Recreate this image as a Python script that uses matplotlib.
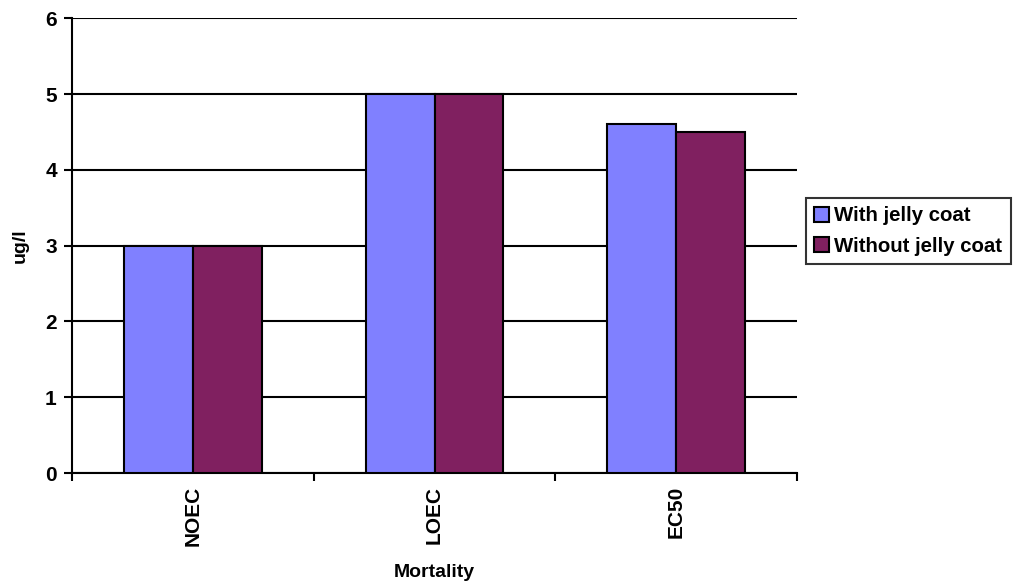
import numpy as np
import matplotlib.pyplot as plt

categories = ['NOEC', 'LOEC', 'EC50']
with_coat = [3, 5, 4.6]
without_coat = [3, 5, 4.5]
series_names = ['With jelly coat', 'Without jelly coat']
y_ticks = [0, 1, 2, 3, 4, 5, 6]

plt.rcParams['font.family'] = ['Liberation Sans', 'DejaVu Sans']
plt.rcParams['font.weight'] = 'bold'

fig = plt.figure(figsize=(10.22, 5.87), dpi=100)
ax = fig.add_axes([0.0705, 0.194, 0.7095, 0.775])

x = np.arange(len(categories))
w = 0.285
ax.bar(x - w / 2, with_coat, w, color='#8080FF', edgecolor='black', linewidth=1.5,
       label=series_names[0], zorder=3)
ax.bar(x + w / 2, without_coat, w, color='#802060', edgecolor='black', linewidth=1.5,
       label=series_names[1], zorder=3)

ax.set_xlim(-0.5, len(categories) - 0.5)
ax.set_ylim(0, 6)
ax.set_yticks(y_ticks)
ax.set_yticklabels([str(t) for t in y_ticks], fontsize=15, fontweight='bold')
ax.yaxis.grid(True, color='black', linewidth=1.5, zorder=0)
ax.tick_params(axis='y', length=6, width=1.5, direction='out', pad=5)

# category ticks sit between groups, labels at group centres
ax.set_xticks(np.arange(len(categories) + 1) - 0.5)
ax.set_xticklabels([])
ax.set_xticks(x, minor=True)
ax.set_xticklabels(categories, minor=True, rotation=90, fontsize=15, fontweight='bold')
ax.tick_params(axis='x', which='major', length=6, width=1.5, direction='out')
ax.tick_params(axis='x', which='minor', length=0, pad=9)

for side in ['top', 'right']:
    ax.spines[side].set_visible(False)
for side in ['left', 'bottom']:
    ax.spines[side].set_linewidth(1.5)
ax.set_axisbelow(True)

ax.set_xlabel('Mortality', fontsize=14, fontweight='bold', labelpad=13)
ax.set_ylabel('ug/l', fontsize=14, fontweight='bold', labelpad=12)

leg = ax.legend(loc='center left', bbox_to_anchor=(1.012, 0.532), frameon=True,
                fancybox=False, prop={'size': 14.7, 'weight': 'bold'},
                handlelength=0.75, handleheight=0.75, handletextpad=0.25,
                borderpad=0.4, labelspacing=0.55, borderaxespad=0)
leg.get_frame().set_edgecolor('black')
leg.get_frame().set_linewidth(1.5)

fig.savefig('out.png', dpi=100)
